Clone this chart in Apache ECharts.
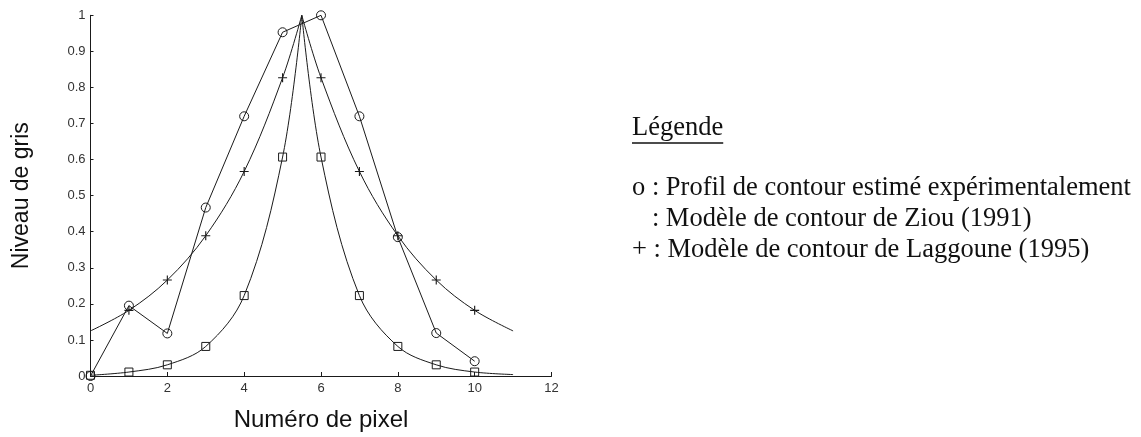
<!DOCTYPE html>
<html>
<head>
<meta charset="utf-8">
<script src="https://cdn.jsdelivr.net/npm/echarts@6/dist/echarts.min.js"></script>
<style>
  html, body { margin: 0; padding: 0; background: #fff; }
  #chart { width: 1141px; height: 437px; }
</style>
</head>
<body>
<div id="chart"></div>
<script>
// Experimental edge profile (circles), one sample per pixel
const expX = [0, 1, 2, 3, 4, 5, 6, 7, 8, 9, 10];
const expY = [0.000, 0.195, 0.118, 0.467, 0.720, 0.953, 1.000, 0.720, 0.385, 0.119, 0.041];

// Ziou (1991) edge model (squares): rising flank and falling flank meet at the 5.5 peak
const ziouRiseX = [0, 1, 2, 3, 4, 5, 5.5];
const ziouRiseY = [0.002, 0.011, 0.031, 0.082, 0.223, 0.607, 1.000];
const ziouFallX = [5.5, 6, 7, 8, 9, 10, 11];
const ziouFallY = [1.000, 0.607, 0.223, 0.082, 0.031, 0.011, 0.004];

// Laggoune (1995) edge model (crosses)
const lagRiseX = [0, 1, 2, 3, 4, 5, 5.5];
const lagRiseY = [0.125, 0.182, 0.266, 0.389, 0.567, 0.827, 1.000];
const lagFallX = [5.5, 6, 7, 8, 9, 10, 11];
const lagFallY = [1.000, 0.827, 0.567, 0.389, 0.266, 0.182, 0.125];

// Pixel positions that carry a marker on each model curve
const ziouMarked = [0, 1, 2, 3, 4, 5, 6, 7, 8, 9, 10];
const lagMarked = [1, 2, 3, 4, 5, 6, 7, 8, 9, 10];

// Texts
const xTitle = 'Numéro de pixel';
const yTitle = 'Niveau de gris';
const legendTitle = 'Légende';
const legendLines = [
  'o : Profil de contour estimé expérimentalement',
  '   : Modèle de contour de Ziou (1991)',
  '+ : Modèle de contour de Laggoune (1995)'
];

const INK = '#1a1a1a';
const PLUS = 'path://M3.5,0H4.5V3.5H8V4.5H4.5V8H3.5V4.5H0V3.5H3.5Z';

function pairs(xs, ys, marked, symbol) {
  return xs.map((x, i) => {
    const p = { value: [x, ys[i]] };
    if (marked && marked.indexOf(x) < 0) p.symbol = 'none';
    return p;
  });
}

function markerStyle() {
  return { color: 'rgba(0,0,0,0)', borderColor: INK, borderWidth: 1 };
}

function modelSeries(xs, ys, marked, symbol, size, filled) {
  return {
    type: 'line',
    data: pairs(xs, ys, marked),
    smooth: 0.35,
    symbol: symbol,
    symbolSize: size,
    showAllSymbol: true,
    lineStyle: { color: INK, width: 1 },
    itemStyle: filled ? { color: INK, borderWidth: 0 } : markerStyle(),
    emphasis: { disabled: true },
    z: 2
  };
}

const chart = echarts.init(document.getElementById('chart'), null, { renderer: 'canvas' });

// legend block geometry
const LEG_X = 632;
const LEG_FONT = 26.5;
const serif = '"Liberation Serif", "Times New Roman", Times, serif';
const ctx = document.createElement('canvas').getContext('2d');
ctx.font = LEG_FONT + 'px ' + serif;
const titleW = ctx.measureText(legendTitle).width;

const legendGraphics = [
  {
    type: 'text', left: LEG_X, top: 130 - LEG_FONT / 2 - 2,
    style: { text: legendTitle, font: LEG_FONT + 'px ' + serif, fill: '#111' }
  },
  {
    type: 'line', shape: { x1: LEG_X, y1: 143, x2: LEG_X + titleW, y2: 143 },
    style: { stroke: '#111', lineWidth: 1.5 }
  }
].concat(legendLines.map((t, i) => ({
  type: 'text', left: LEG_X, top: [190, 221, 252][i] - LEG_FONT / 2 - 2,
  style: { text: t, font: LEG_FONT + 'px ' + serif, fill: '#111' }
})));

chart.setOption({
  animation: false,
  backgroundColor: '#fff',
  grid: { left: 90.5, right: 589.5, top: 15.3, bottom: 58, containLabel: false },
  xAxis: {
    type: 'value', min: 0, max: 12, interval: 2,
    name: xTitle, nameLocation: 'middle', nameGap: 32,
    nameTextStyle: { fontFamily: 'Liberation Sans, Arial, sans-serif', fontSize: 24, color: '#111' },
    axisLine: { lineStyle: { color: INK, width: 1 } },
    axisTick: { inside: true, length: 4, lineStyle: { color: INK } },
    axisLabel: { margin: 6, fontFamily: 'Liberation Sans, Arial, sans-serif', fontSize: 13, color: '#333' },
    splitLine: { show: false }
  },
  yAxis: {
    type: 'value', min: 0, max: 1, interval: 0.1,
    name: yTitle, nameLocation: 'middle', nameGap: 57, nameRotate: 90,
    nameTextStyle: { fontFamily: 'Liberation Sans, Arial, sans-serif', fontSize: 23, color: '#111' },
    axisLine: { show: true, lineStyle: { color: INK, width: 1 } },
    axisTick: { show: true, inside: true, length: 3, lineStyle: { color: INK } },
    axisLabel: {
      margin: 5, fontFamily: 'Liberation Sans, Arial, sans-serif', fontSize: 13, color: '#333',
      formatter: v => (Math.abs(v) < 1e-9 ? '0' : Math.abs(v - 1) < 1e-9 ? '1' : v.toFixed(1))
    },
    splitLine: { show: false }
  },
  graphic: legendGraphics,
  series: [
    {
      type: 'line',
      data: pairs(expX, expY, null),
      symbol: 'circle', symbolSize: 9, showAllSymbol: true,
      lineStyle: { color: INK, width: 1 },
      itemStyle: markerStyle(),
      emphasis: { disabled: true },
      z: 3
    },
    modelSeries(ziouRiseX, ziouRiseY, ziouMarked, 'rect', 8, false),
    modelSeries(ziouFallX, ziouFallY, ziouMarked, 'rect', 8, false),
    modelSeries(lagRiseX, lagRiseY, lagMarked, PLUS, 9, true),
    modelSeries(lagFallX, lagFallY, lagMarked, PLUS, 9, true)
  ]
});
</script>
</body>
</html>
